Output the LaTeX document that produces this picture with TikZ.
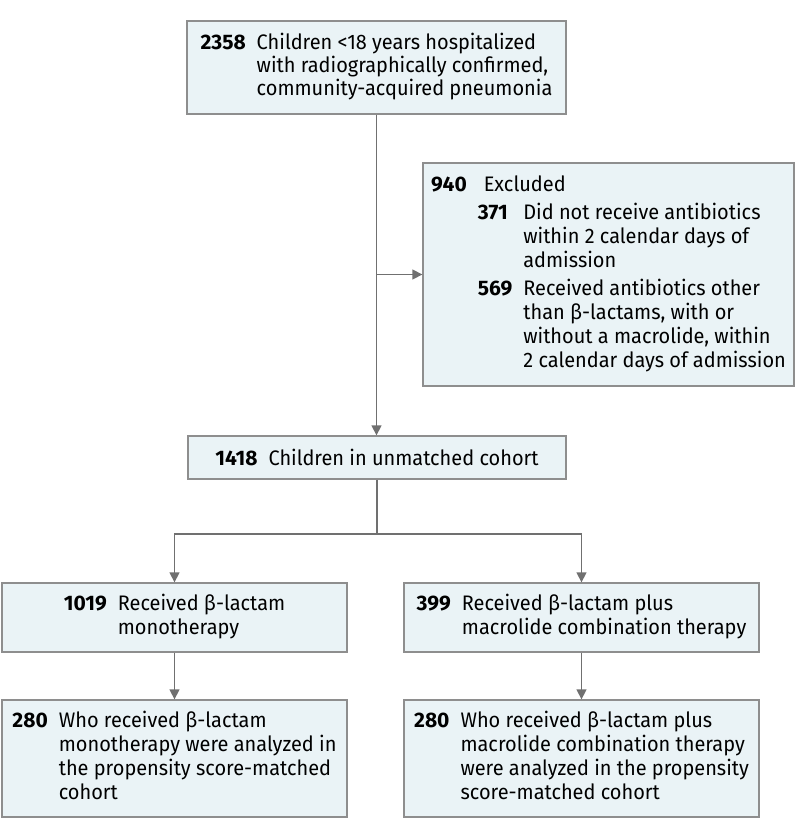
\documentclass[tikz,border=0pt]{standalone}
\usepackage{fontspec}
\usepackage{array}
\setmainfont{Fira Sans}[FakeStretch=0.95]
\newfontfamily\numfont{Fira Sans}[FakeStretch=1.0]
\usetikzlibrary{arrows.meta}
\definecolor{boxfill}{HTML}{EAF3F6}
\definecolor{boxedge}{HTML}{8E8E8E}
\definecolor{linegray}{HTML}{707070}
\newcommand{\num}[1]{{\numfont\bfseries #1}}

\begin{document}
\begin{tikzpicture}[x=1bp,y=-1bp,
  flowbox/.style={draw=boxedge,fill=boxfill,line width=1.3bp,inner sep=0pt,
    font=\fontsize{21bp}{24bp}\selectfont},
  flowline/.style={draw=linegray,line width=1.3bp},
  flowarrow/.style={flowline,-{Triangle[length=10bp,width=10bp]}}]
\useasboundingbox (0,0) rectangle (798,840);
\tikzstyle{every node}+=[anchor=center]
\node [flowbox,minimum width=379bp,minimum height=93bp,
  font=\fontsize{21bp}{22.5bp}\selectfont] (start) at (376.5,67.5)
  {\begin{tabular}{@{}l@{\hspace{11bp}}l@{}}
   \num{2358} & Children <18 years hospitalized\\
   & with radiographically confirmed,\\
   & community-acquired pneumonia
   \end{tabular}};
\node [flowbox,minimum width=371bp,minimum height=223bp] (excl) at (608.5,274.5)
  {\begin{tabular}{@{}l@{\hspace{11bp}}l@{\hspace{11bp}}l@{}}
   \num{940} & \multicolumn{2}{l}{Excluded}\\[4bp]
   & \num{371} & Did not receive antibiotics\\
   & & within 2 calendar days of\\
   & & admission\\[4bp]
   & \num{569} & Received antibiotics other\\
   & & than β-lactams, with or\\
   & & without a macrolide, within\\
   & & 2 calendar days of admission
   \end{tabular}};
\node [flowbox,minimum width=378bp,minimum height=43bp] (unmatched) at (377,457.5)
  {\num{1418}\hspace{11bp}Children in unmatched cohort};
\node [flowbox,minimum width=345bp,minimum height=69bp] (mono) at (174.5,617.5)
  {\begin{tabular}{@{}l@{\hspace{11bp}}l@{}}
   \num{1019} & Received β-lactam\\
   & monotherapy
   \end{tabular}};
\node [flowbox,minimum width=355bp,minimum height=69bp] (combo) at (581.5,617.5)
  {\begin{tabular}{@{}l@{\hspace{11bp}}l@{}}
   \num{399} & Received β-lactam plus\\
   & macrolide combination therapy
   \end{tabular}};
\node [flowbox,minimum width=345bp,minimum height=117bp] (monomatch) at (174.5,758.5)
  {\begin{tabular}{@{}l@{\hspace{11bp}}l@{}}
   \num{280} & Who received β-lactam\\
   & monotherapy were analyzed in\\
   & the propensity score-matched\\
   & cohort
   \end{tabular}};
\node [flowbox,minimum width=355bp,minimum height=117bp] (combomatch) at (581.5,758.5)
  {\begin{tabular}{@{}l@{\hspace{11bp}}l@{}}
   \num{280} & Who received β-lactam plus\\
   & macrolide combination therapy\\
   & were analyzed in the propensity\\
   & score-matched cohort
   \end{tabular}};
% connectors
\coordinate (side) at (start.south |- excl.west);
\coordinate (fork) at (377,534);
\draw [flowarrow] (start.south) -- (start.south |- unmatched.north);
\draw [flowarrow] (side) -- (excl.west);
\draw [flowline] (unmatched.south) -- (fork);
\draw [flowarrow] (fork) -| (mono.north);
\draw [flowarrow] (fork) -| (combo.north);
\draw [flowarrow] (mono.south) -- (monomatch.north);
\draw [flowarrow] (combo.south) -- (combomatch.north);
\end{tikzpicture}
\end{document}
